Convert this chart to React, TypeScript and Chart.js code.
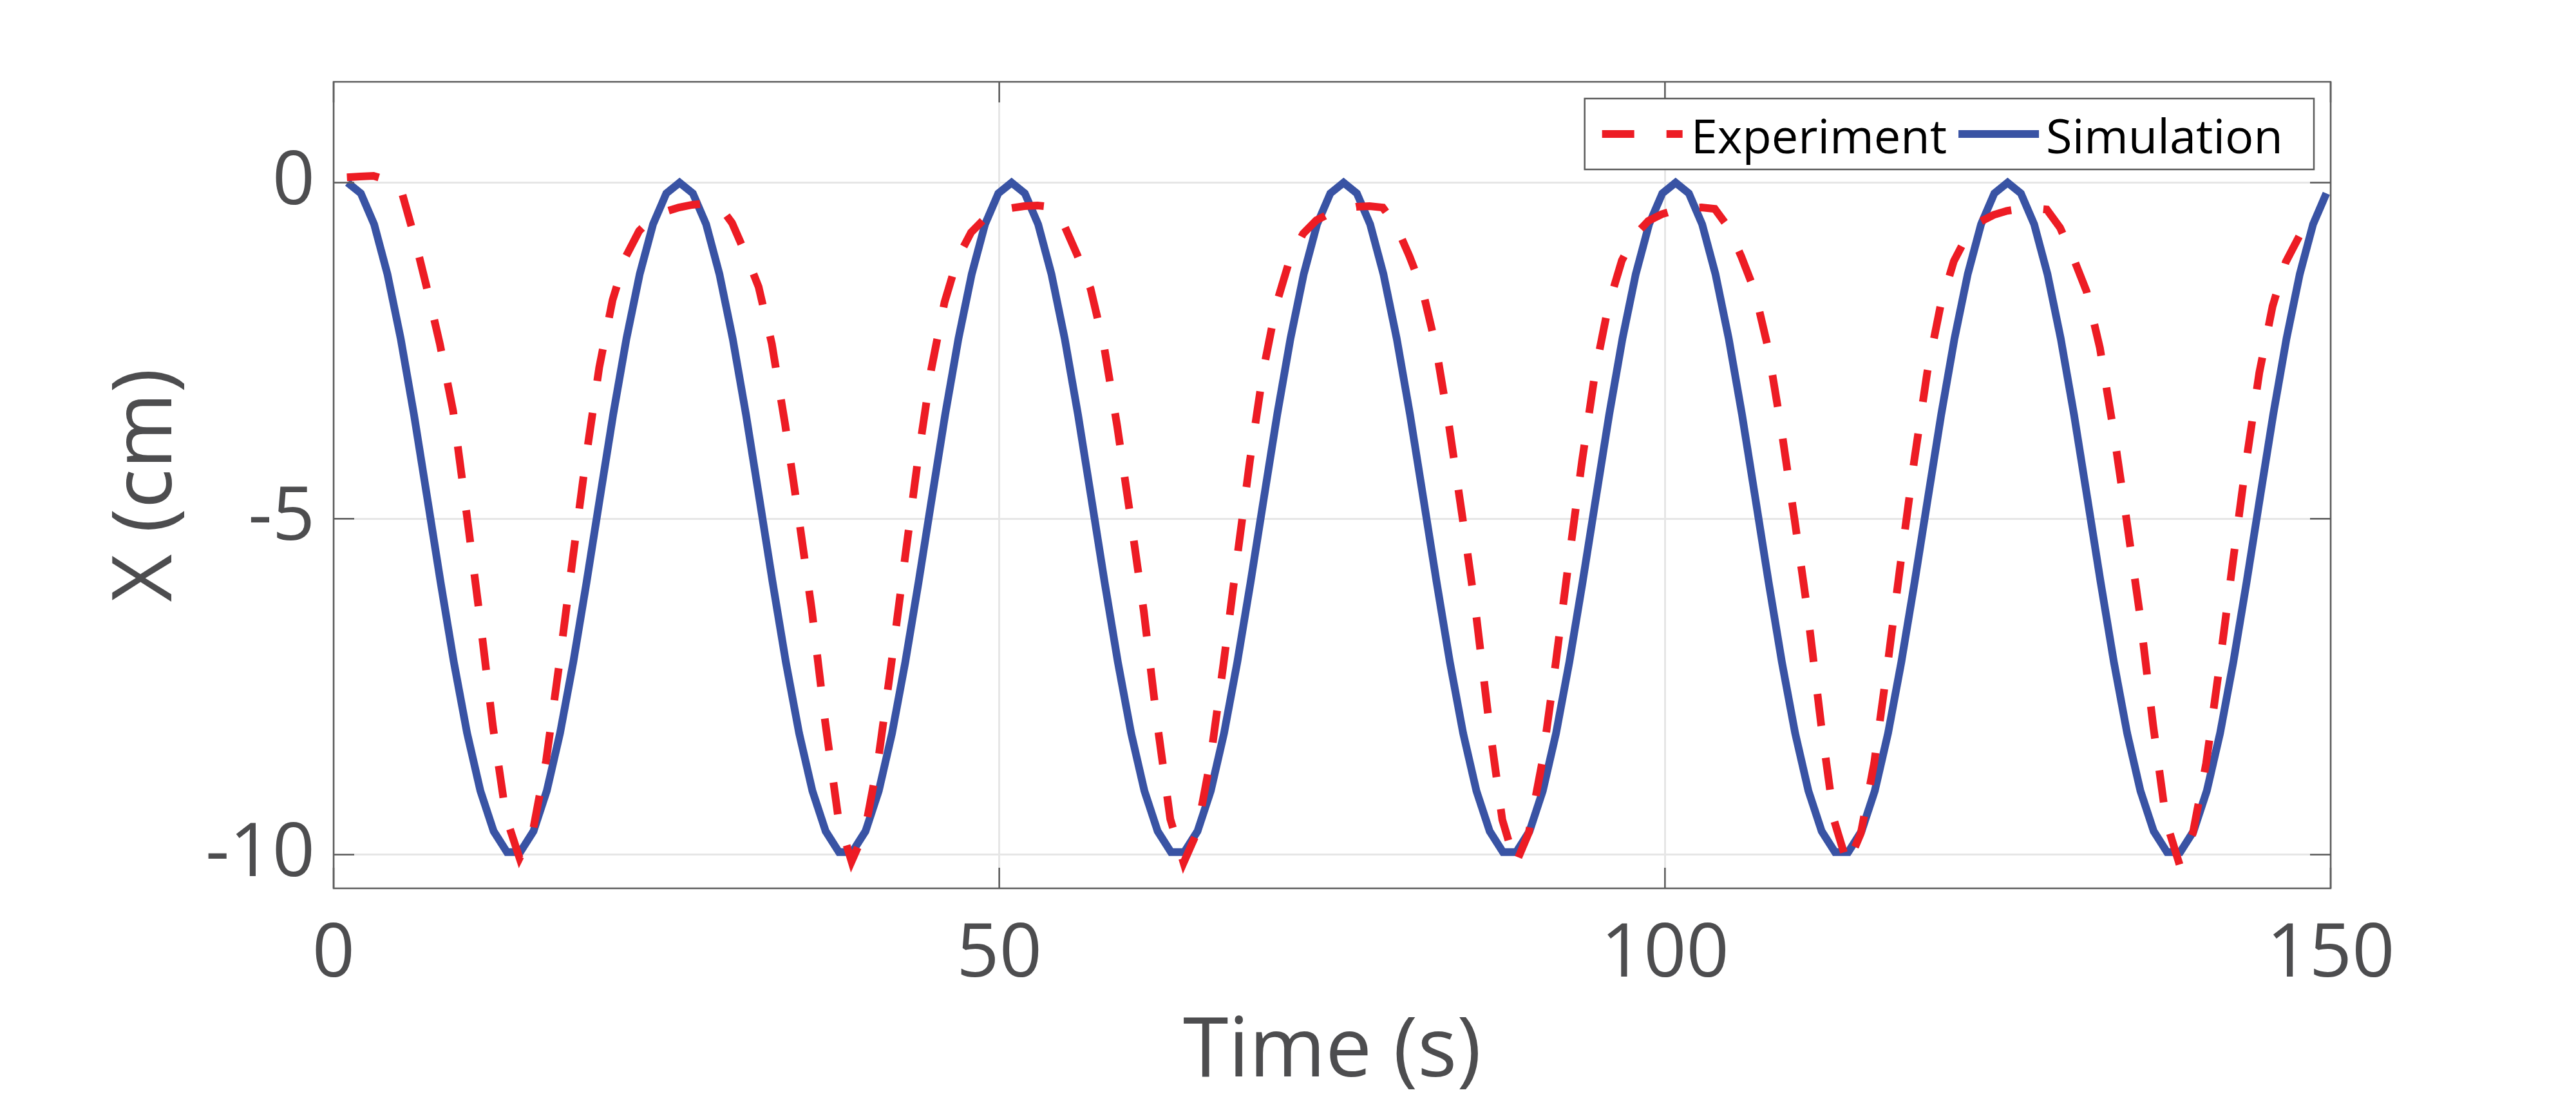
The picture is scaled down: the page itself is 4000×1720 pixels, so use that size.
import React, { FC, useEffect, useRef } from 'react';
import Chart from 'chart.js/auto';

// axis ticks and ranges
const X_TICKS = [0, 50, 100, 150];
const Y_TICKS = [0, -5, -10];
const X_MIN = 0;
const X_MAX = 150;
const Y_MIN = -10.5;
const Y_MAX = 1.5;

// sampling of both records (s)
const TIME_STEP = 0.9975;
const EXP_START = 1.0;
const SIM_START = 1.05;

const SERIES_NAMES = ['Experiment', 'Simulation'];

// X (cm), experiment record
const experiment = [
  0.08, 0.09, 0.1, 0.04, -0.05, -0.75, -1.55, -2.4, -3.4, -4.9, -6.45, -8.1, -9.45, -10.05,
  -9.65, -8.6, -7.15, -5.6, -4.1, -2.75, -1.75, -1.1, -0.72, -0.52, -0.43, -0.37,
  -0.33, -0.31, -0.33, -0.6, -1.05, -1.55, -2.4, -3.6, -4.95, -6.35, -8.0, -9.45, -10.1,
  -9.65, -8.6, -7.15, -5.62, -4.12, -2.78, -1.78, -1.12, -0.74, -0.54, -0.45, -0.38,
  -0.35, -0.34, -0.36, -0.63, -1.08, -1.58, -2.42, -3.62, -4.97, -6.37, -8.02, -9.47, -10.12,
  -9.67, -8.62, -7.17, -5.63, -4.13, -2.8, -1.8, -1.14, -0.76, -0.56, -0.46, -0.4,
  -0.36, -0.35, -0.37, -0.64, -1.09, -1.6, -2.44, -3.63, -4.98, -6.38, -8.03, -9.48, -10.14,
  -9.67, -8.63, -7.18, -5.64, -4.15, -2.81, -1.82, -1.16, -0.78, -0.57, -0.47, -0.41,
  -0.38, -0.37, -0.39, -0.66, -1.1, -1.61, -2.45, -3.65, -5.0, -6.4, -8.05, -9.5, -10.15,
  -9.68, -8.64, -7.19, -5.65, -4.16, -2.82, -1.83, -1.17, -0.79, -0.58, -0.48, -0.42,
  -0.39, -0.38, -0.4, -0.67, -1.12, -1.62, -2.46, -3.66, -5.01, -6.41, -8.06, -9.51, -10.15,
  -9.68, -8.64, -7.2, -5.66, -4.17, -2.83, -1.84, -1.18, -0.8,
];

// X (cm), simulation
const simulation = [
  0, -0.16, -0.62, -1.36, -2.32, -3.45, -4.69, -5.94, -7.13, -8.19, -9.05, -9.65, -9.96,
  -9.96, -9.65, -9.05, -8.19, -7.13, -5.94, -4.69, -3.45, -2.32, -1.36, -0.62, -0.16,
  0, -0.16, -0.62, -1.36, -2.32, -3.45, -4.69, -5.94, -7.13, -8.19, -9.05, -9.65, -9.96,
  -9.96, -9.65, -9.05, -8.19, -7.13, -5.94, -4.69, -3.45, -2.32, -1.36, -0.62, -0.16,
  0, -0.16, -0.62, -1.36, -2.32, -3.45, -4.69, -5.94, -7.13, -8.19, -9.05, -9.65, -9.96,
  -9.96, -9.65, -9.05, -8.19, -7.13, -5.94, -4.69, -3.45, -2.32, -1.36, -0.62, -0.16,
  0, -0.16, -0.62, -1.36, -2.32, -3.45, -4.69, -5.94, -7.13, -8.19, -9.05, -9.65, -9.96,
  -9.96, -9.65, -9.05, -8.19, -7.13, -5.94, -4.69, -3.45, -2.32, -1.36, -0.62, -0.16,
  0, -0.16, -0.62, -1.36, -2.32, -3.45, -4.69, -5.94, -7.13, -8.19, -9.05, -9.65, -9.96,
  -9.96, -9.65, -9.05, -8.19, -7.13, -5.94, -4.69, -3.45, -2.32, -1.36, -0.62, -0.16,
  0, -0.16, -0.62, -1.36, -2.32, -3.45, -4.69, -5.94, -7.13, -8.19, -9.05, -9.65, -9.96,
  -9.96, -9.65, -9.05, -8.19, -7.13, -5.94, -4.69, -3.45, -2.32, -1.36, -0.62, -0.16,
];

const FONT = '"Open Sans", "DejaVu Sans", sans-serif';
const LABEL_COLOR = '#4d4d4f';
const RED = '#ed1c24';
const BLUE = '#3953a4';

const toPoints = (values: number[], start: number) =>
  values.map((y, i) => ({ x: start + i * TIME_STEP, y }));

// matlab-like box, inward ticks and legend box
const boxPlugin = {
  id: 'matlabBox',
  afterDatasetsDraw(chart: any) {
    const { ctx, chartArea: a, scales } = chart;
    const tick = 32;
    ctx.save();
    ctx.strokeStyle = '#5c5c5c';
    ctx.lineWidth = 2.5;
    ctx.beginPath();
    X_TICKS.forEach((v) => {
      const px = scales.x.getPixelForValue(v);
      ctx.moveTo(px, a.bottom);
      ctx.lineTo(px, a.bottom - tick);
      ctx.moveTo(px, a.top);
      ctx.lineTo(px, a.top + tick);
    });
    Y_TICKS.forEach((v) => {
      const py = scales.y.getPixelForValue(v);
      ctx.moveTo(a.left, py);
      ctx.lineTo(a.left + tick, py);
      ctx.moveTo(a.right, py);
      ctx.lineTo(a.right - tick, py);
    });
    ctx.stroke();
    ctx.strokeRect(a.left, a.top, a.right - a.left, a.bottom - a.top);

    // legend
    const ds = chart.data.datasets;
    ctx.font = `74px ${FONT}`;
    const widths = ds.map((d: any) => ctx.measureText(d.label).width);
    const sample = 125;
    const boxW = 27 + sample + 13 + widths[0] + 18 + sample + 11 + widths[1] + 48;
    const boxH = 110;
    const bx = a.right - 26 - boxW;
    const by = a.top + 26;
    ctx.fillStyle = '#ffffff';
    ctx.fillRect(bx, by, boxW, boxH);
    ctx.strokeStyle = '#5c5c5c';
    ctx.lineWidth = 2.5;
    ctx.strokeRect(bx, by, boxW, boxH);

    const ly = by + 55;
    let cx = bx + 27;
    ds.forEach((d: any, i: number) => {
      ctx.beginPath();
      ctx.setLineDash(d.borderDash || []);
      ctx.strokeStyle = d.borderColor;
      ctx.lineWidth = d.borderWidth;
      ctx.lineCap = 'butt';
      ctx.moveTo(cx, ly);
      ctx.lineTo(cx + sample, ly);
      ctx.stroke();
      ctx.setLineDash([]);
      cx += sample + (i === 0 ? 13 : 11);
      ctx.fillStyle = '#000000';
      ctx.textAlign = 'left';
      ctx.textBaseline = 'alphabetic';
      ctx.fillText(d.label, cx, by + 85);
      cx += widths[i] + 18;
    });
    ctx.restore();
  },
};

const App: FC = () => {
  const canvasRef = useRef<HTMLCanvasElement | null>(null);
  const chartRef = useRef<Chart | null>(null);

  useEffect(() => {
    if (!canvasRef.current) return;
    if (chartRef.current) chartRef.current.destroy();

    chartRef.current = new Chart(canvasRef.current, {
      type: 'line',
      data: {
        datasets: [
          {
            label: SERIES_NAMES[0],
            data: toPoints(experiment, EXP_START),
            borderColor: RED,
            borderWidth: 12,
            borderDash: [50, 50],
          },
          {
            label: SERIES_NAMES[1],
            data: toPoints(simulation, SIM_START),
            borderColor: BLUE,
            borderWidth: 12,
          },
        ],
      },
      options: {
        animation: false,
        responsive: true,
        maintainAspectRatio: false,
        layout: { padding: { left: 0, top: 127, right: 381, bottom: 0 } },
        elements: {
          point: { radius: 0 },
          line: { tension: 0, borderJoinStyle: 'miter', borderCapStyle: 'butt' },
        },
        plugins: {
          legend: { display: false },
          tooltip: { enabled: false },
        },
        scales: {
          x: {
            type: 'linear',
            min: X_MIN,
            max: X_MAX,
            afterBuildTicks: (s: any) => {
              s.ticks = X_TICKS.map((value) => ({ value }));
            },
            afterFit: (s: any) => {
              s.height = 341;
            },
            grid: { color: '#e6e6e6', lineWidth: 3, drawTicks: false },
            border: { display: false },
            ticks: {
              font: { family: FONT, size: 116 },
              color: LABEL_COLOR,
              padding: 34,
              maxRotation: 0,
              autoSkip: false,
            },
            title: {
              display: true,
              text: 'Time (s)',
              font: { family: FONT, size: 128 },
              color: LABEL_COLOR,
              padding: { top: 0, bottom: 9 },
            },
          },
          y: {
            type: 'linear',
            min: Y_MIN,
            max: Y_MAX,
            afterBuildTicks: (s: any) => {
              s.ticks = Y_TICKS.map((value) => ({ value }));
            },
            afterFit: (s: any) => {
              s.width = 518;
            },
            grid: { color: '#e6e6e6', lineWidth: 3, drawTicks: false },
            border: { display: false },
            ticks: {
              font: { family: FONT, size: 116 },
              color: LABEL_COLOR,
              padding: 29,
              autoSkip: false,
            },
            title: {
              display: true,
              text: 'X (cm)',
              font: { family: FONT, size: 128 },
              color: LABEL_COLOR,
              padding: { top: 153, bottom: 0 },
            },
          },
        },
      },
      plugins: [boxPlugin],
    });

    return () => {
      if (chartRef.current) {
        chartRef.current.destroy();
        chartRef.current = null;
      }
    };
  }, []);

  return (
    <div
      style={{
        position: 'fixed',
        left: 0,
        top: 0,
        width: '4000px',
        height: '1720px',
        background: '#ffffff',
      }}
    >
      <canvas ref={canvasRef} />
    </div>
  );
};

export default App;
